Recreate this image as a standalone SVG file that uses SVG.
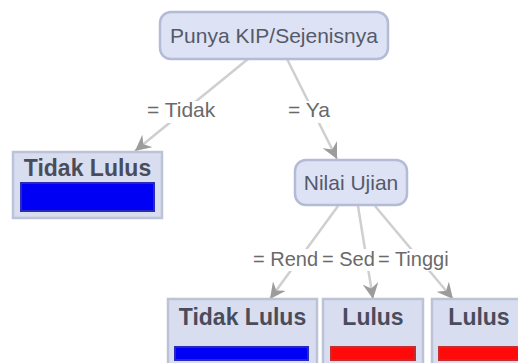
<svg xmlns="http://www.w3.org/2000/svg" width="518" height="363" viewBox="0 0 518 363">
<style>
.node rect{fill:#dde3f4;stroke:#b3bbd6;stroke-width:2.5}
.node text{font-family:"Liberation Sans",Arial,sans-serif;font-size:21px;fill:#55596a;text-anchor:middle}
.leaf .box{fill:#d8def0;stroke:#bcc3d6;stroke-width:2.5}
.leaf text{font-family:"Liberation Sans",Arial,sans-serif;font-size:23px;font-weight:bold;fill:#4a4c5c;text-anchor:middle}
.blue{fill:#0000f4;stroke:#2a2ab8;stroke-width:2}
.red{fill:#ff0a0a;stroke:#c03030;stroke-width:2}
.edges line{stroke:#cfcfcf;stroke-width:2.5;marker-end:url(#arr)}
.lbl rect{fill:#ffffff}
.lbl text{font-family:"Liberation Sans",Arial,sans-serif;font-size:21px;fill:#6a6a6a}
.lbl text.s{font-size:20px}
</style>
<defs>
<marker id="arr" viewBox="0 0 12 12" refX="12" refY="6" markerWidth="16" markerHeight="16" markerUnits="userSpaceOnUse" orient="auto">
<path d="M0,0 L12,6 L0,12 L4,6 z" fill="#9c9c9c"/>
</marker>
</defs>
<g class="edges">
<line x1="248" y1="59" x2="135" y2="151"/>
<line x1="287" y1="59" x2="337" y2="159"/>
<line x1="338" y1="206" x2="270" y2="299"/>
<line x1="358" y1="206" x2="373" y2="299"/>
<line x1="375" y1="206" x2="453" y2="299"/>
</g>
<g class="lbl">
<rect x="145" y="101" width="77" height="22"/>
<text x="147" y="117">= Tidak</text>
<rect x="286" y="101" width="51" height="22"/>
<text x="288" y="117">= Ya</text>
<rect x="251" y="249" width="70" height="22"/>
<text class="s" x="253" y="266">= Rend</text>
<rect x="321" y="249" width="55" height="22"/>
<text class="s" x="322" y="266">= Sed</text>
<rect x="377" y="249" width="84" height="22"/>
<text class="s" x="378" y="266">= Tinggi</text>
</g>
<g id="root" class="node">
<rect x="160" y="12" width="228" height="47" rx="11"/>
<text x="274" y="43">Punya KIP/Sejenisnya</text>
</g>
<g id="nilai" class="node">
<rect x="295" y="160" width="112" height="45" rx="11"/>
<text x="351" y="190">Nilai Ujian</text>
</g>
<g id="leaf1" class="leaf">
<rect class="box" x="13" y="152" width="149" height="66"/>
<text x="87.5" y="176">Tidak Lulus</text>
<rect class="blue" x="21" y="183" width="133" height="28"/>
</g>
<g id="leaf2" class="leaf">
<rect class="box" x="168" y="299" width="149" height="66"/>
<text x="242.5" y="325">Tidak Lulus</text>
<rect class="blue" x="175" y="347" width="133" height="13"/>
</g>
<g id="leaf3" class="leaf">
<rect class="box" x="323" y="299" width="100" height="66"/>
<text x="373" y="325">Lulus</text>
<rect class="red" x="331" y="347" width="84" height="13"/>
</g>
<g id="leaf4" class="leaf">
<rect class="box" x="432" y="299" width="96" height="66"/>
<text x="479" y="325">Lulus</text>
<rect class="red" x="439" y="347" width="82" height="13"/>
</g>
</svg>
